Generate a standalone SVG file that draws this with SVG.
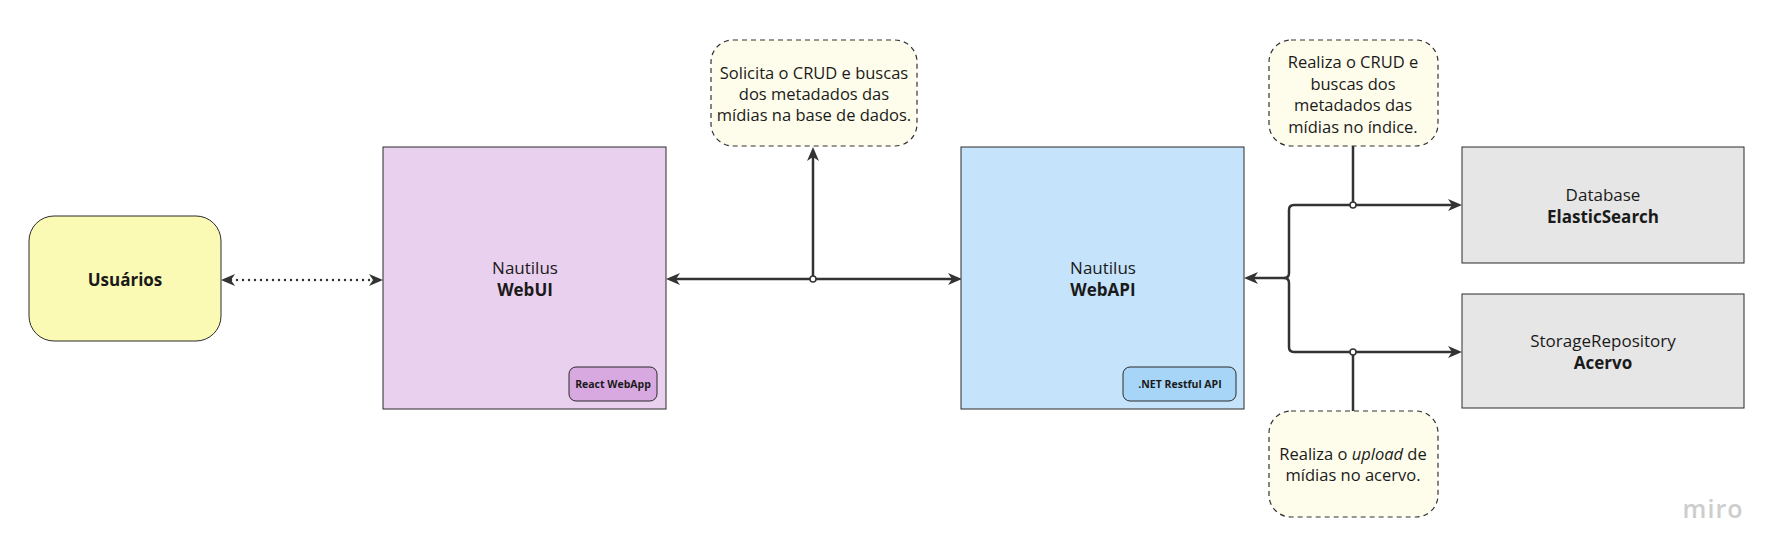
<svg xmlns="http://www.w3.org/2000/svg" width="1784" height="560" viewBox="0 0 1784 560">
<style>
  text { font-family: "Open Sans", "Noto Sans", "Liberation Sans", sans-serif; fill: #1a1a1a; }
  .lbl { font-size: 17px; text-anchor: middle; }
  .cl { font-size: 16.5px; text-anchor: middle; }
  .b { font-weight: 700; }
  .badge-t { font-size: 10.5px; font-weight: 700; text-anchor: middle; }
  .box { stroke: #2b2b2b; stroke-width: 1; }
  .callout { fill: #fefdeb; stroke: #333; stroke-width: 1.2; stroke-dasharray: 5 4; }
  .conn { fill: none; stroke: #333; stroke-width: 2.5; }
  .dot { fill: #fff; stroke: #333; stroke-width: 1.5; }
</style>
<defs>
  <marker id="arr" markerUnits="userSpaceOnUse" markerWidth="14" markerHeight="14" viewBox="0 0 14 14" refX="10" refY="7" orient="auto-start-reverse">
    <path d="M0,1 L14,7 L0,13 L4,7 Z" fill="#333"/>
  </marker>
</defs>
<rect width="1784" height="560" fill="#ffffff"/>

<g id="connectors">
  <path class="conn" d="M225,280 L379,280" stroke-dasharray="0 6" stroke-linecap="round" marker-start="url(#arr)" marker-end="url(#arr)"/>
  <path class="conn" d="M670,279 L958,279" marker-start="url(#arr)" marker-end="url(#arr)"/>
  <path class="conn" d="M813,279 L813,151" marker-end="url(#arr)"/>
  <path class="conn" d="M1248,278 L1284,278 Q1289,278 1289,273 L1289,210 Q1289,205 1294,205 L1458,205" marker-start="url(#arr)" marker-end="url(#arr)"/>
  <path class="conn" d="M1284,278 Q1289,278 1289,283 L1289,347 Q1289,352 1294,352 L1458,352" marker-end="url(#arr)"/>
  <path class="conn" d="M1353,146 L1353,205"/>
  <path class="conn" d="M1353,352 L1353,411"/>
  <circle class="dot" cx="813" cy="279" r="3"/>
  <circle class="dot" cx="1353" cy="205" r="3"/>
  <circle class="dot" cx="1353" cy="352" r="3"/>
</g>

<g id="usuarios">
  <rect class="box" x="29" y="216" width="192" height="125" rx="25" fill="#fafab4"/>
  <text class="lbl b" x="125" y="286">Usuários</text>
</g>

<g id="webui">
  <rect class="box" x="383" y="147" width="283" height="262" fill="#e9d0ee"/>
  <text class="lbl" x="525" y="274">Nautilus</text>
  <text class="lbl b" x="525" y="296">WebUI</text>
  <rect class="box" x="569" y="367" width="88" height="34" rx="7" fill="#d8a9e1"/>
  <text class="badge-t" x="613" y="388">React WebApp</text>
</g>

<g id="webapi">
  <rect class="box" x="961" y="147" width="283" height="262" fill="#c5e3fa"/>
  <text class="lbl" x="1103" y="274">Nautilus</text>
  <text class="lbl b" x="1103" y="296">WebAPI</text>
  <rect class="box" x="1123" y="367" width="113" height="34" rx="7" fill="#a7d5f7"/>
  <text class="badge-t" x="1180" y="388">.NET Restful API</text>
</g>

<g id="elasticsearch">
  <rect class="box" x="1462" y="147" width="282" height="116" fill="#e6e6e6"/>
  <text class="lbl" x="1603" y="201">Database</text>
  <text class="lbl b" x="1603" y="223">ElasticSearch</text>
</g>

<g id="acervo">
  <rect class="box" x="1462" y="294" width="282" height="114" fill="#e6e6e6"/>
  <text class="lbl" x="1603" y="347">StorageRepository</text>
  <text class="lbl b" x="1603" y="369">Acervo</text>
</g>

<g id="callout-webui">
  <rect class="callout" x="711" y="40" width="206" height="106" rx="22"/>
  <text class="cl" x="814" y="79">Solicita o CRUD e buscas</text>
  <text class="cl" x="814" y="100">dos metadados das</text>
  <text class="cl" x="814" y="121">mídias na base de dados.</text>
</g>

<g id="callout-elastic">
  <rect class="callout" x="1269" y="40" width="169" height="106" rx="22"/>
  <text class="cl" x="1353" y="68">Realiza o CRUD e</text>
  <text class="cl" x="1353" y="89.5">buscas dos</text>
  <text class="cl" x="1353" y="111">metadados das</text>
  <text class="cl" x="1353" y="132.5">mídias no índice.</text>
</g>

<g id="callout-acervo">
  <rect class="callout" x="1269" y="411" width="169" height="106" rx="22"/>
  <text class="cl" x="1353" y="460">Realiza o <tspan font-style="italic">upload</tspan> de</text>
  <text class="cl" x="1353" y="481">mídias no acervo.</text>
</g>

<text x="1713" y="518" text-anchor="middle" font-size="25" style="fill:#cdcdcd; font-family: 'Open Sans', 'Liberation Sans', sans-serif; font-weight: 600; letter-spacing: 1px;">miro</text>
</svg>
